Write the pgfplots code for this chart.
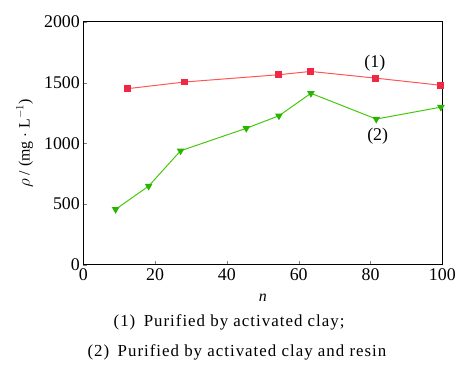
\documentclass[border=0pt]{standalone}
\usepackage{fontspec}
\setmainfont{Liberation Serif}
\usepackage{pgfplots}
\pgfplotsset{compat=1.18}
\definecolor{redline}{RGB}{255,85,85}
\definecolor{redmark}{RGB}{240,40,70}
\definecolor{greenline}{RGB}{70,200,10}
\definecolor{greenmark}{RGB}{40,180,0}
\begin{document}
\begin{tikzpicture}
\begin{axis}[
  width=362pt, height=245pt, scale only axis,
  xmin=0, xmax=100, ymin=0, ymax=2000,
  xtick={0,20,...,100}, ytick={0,500,...,2000},
  xticklabels={0,20,40,60,80,100},
  yticklabels={0,500,1000,1500,2000},
  tick align=inside, xtick pos=bottom, ytick pos=left,
  major tick length=4pt,
  axis line style={line width=0.8pt},
  tick label style={font=\fontsize{18}{20}\selectfont},
  label style={font=\fontsize{16}{18}\selectfont},
  xlabel={\textit{n}},
  ylabel={$\rho$ / (mg $\cdot$ L$^{-1}$)},
  xlabel style={at={(rel axis cs:0.5,-0.135)}, anchor=center},
  ylabel style={at={(rel axis cs:-0.163,0.5)}, anchor=center},
  clip=false,
]
\addplot[color=redline, line width=1pt, mark=square*, mark size=3pt,
  mark options={fill=redmark, draw=redmark}]
  coordinates {(12.3,1450) (28.2,1505) (54.5,1565) (63.3,1592) (81.4,1537) (99.6,1478)};
\addplot[color=greenline, line width=1pt, mark=triangle*, mark size=3.5pt,
  mark options={fill=greenmark, draw=greenmark, rotate=180}]
  coordinates {(9.0,457) (18.2,648) (27.1,939) (45.4,1124) (54.5,1227) (63.4,1412) (81.6,1200) (99.6,1298)};
\node[font=\fontsize{18}{20}\selectfont] at (axis cs:81.2,1663) {(1)};
\node[font=\fontsize{18}{20}\selectfont] at (axis cs:82,1058) {(2)};
\node[font=\fontsize{17}{20}\selectfont\addfontfeatures{LetterSpace=6}] at (rel axis cs:0.406,-0.237) {(1)\enspace Purified by activated clay;};
\node[font=\fontsize{17}{20}\selectfont\addfontfeatures{LetterSpace=6}] at (rel axis cs:0.428,-0.359) {(2)\enspace Purified by activated clay and resin};
\path (rel axis cs:-0.232,-0.441) rectangle (rel axis cs:1.036,1.090);
\end{axis}
\end{tikzpicture}
\end{document}
